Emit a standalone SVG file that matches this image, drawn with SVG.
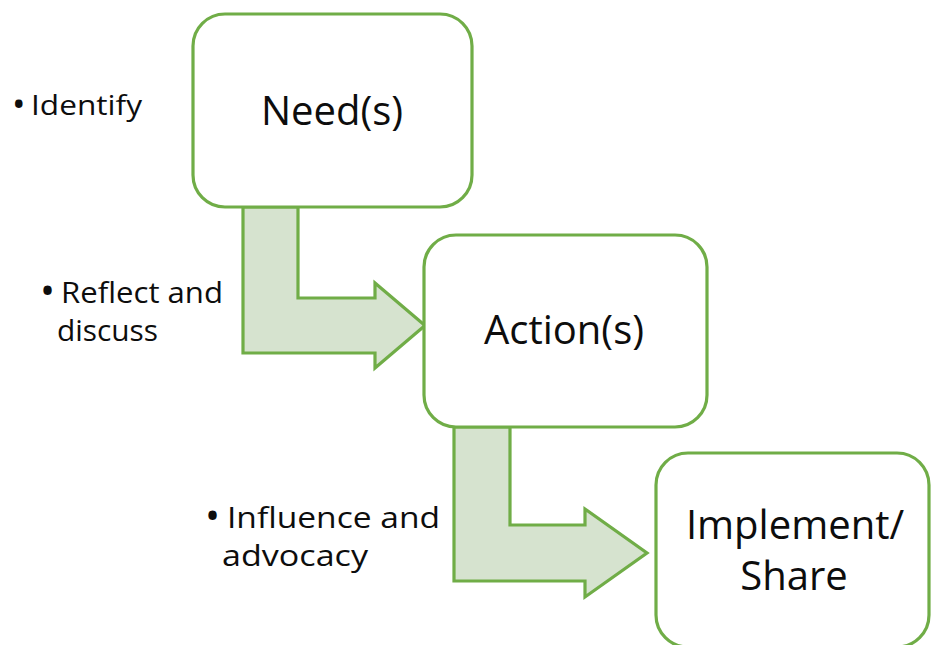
<svg xmlns="http://www.w3.org/2000/svg" width="931" height="645" viewBox="0 0 931 645">
<style>
.box{fill:#ffffff;stroke:#70ad47;stroke-width:3.2}
.arrow{fill:#d6e3cf;stroke:#70ad47;stroke-width:3.2;stroke-linejoin:miter}
.lbl{font-family:"Open Sans","Liberation Sans",sans-serif;font-size:40px;fill:#0d0d0d;text-anchor:middle}
.note{font-family:"Open Sans","Liberation Sans",sans-serif;font-size:30px;fill:#0d0d0d}
.bul{font-size:40px}
</style>
<rect width="931" height="645" fill="#ffffff"/>
<g id="connectors">
<path class="arrow" d="M243,207 L298,207 L298,298 L375,298 L375,283 L425,325.5 L375,368 L375,353 L243,353 Z"/>
<path class="arrow" d="M454,427 L510,427 L510,525 L585,525 L585,509 L647,553 L585,597 L585,581 L454,581 Z"/>
</g>
<g id="node-needs">
<rect class="box" x="193" y="14" width="279" height="193" rx="32" ry="32"/>
<text class="lbl" x="332" y="125">Need(s)</text>
</g>
<g id="node-actions">
<rect class="box" x="424" y="235" width="283" height="192" rx="32" ry="32"/>
<text class="lbl" x="564" y="344">Action(s)</text>
</g>
<g id="node-implement">
<rect class="box" x="656" y="453" width="273" height="194" rx="32" ry="32"/>
<text class="lbl" x="795" y="539">Implement/</text>
<text class="lbl" x="794" y="590">Share</text>
</g>
<g id="note-identify">
<text class="note" x="12" y="117" style="font-size:28px"><tspan class="bul" style="font-size:36px">•</tspan><tspan x="31" y="115" textLength="111" lengthAdjust="spacingAndGlyphs">Identify</tspan></text>
</g>
<g id="note-reflect">
<text class="note" x="40" y="305"><tspan class="bul">•</tspan><tspan x="61" y="303" textLength="162" lengthAdjust="spacingAndGlyphs">Reflect and</tspan></text>
<text class="note" x="57" y="341" textLength="101" lengthAdjust="spacingAndGlyphs">discuss</text>
</g>
<g id="note-influence">
<text class="note" x="205" y="530"><tspan class="bul">•</tspan><tspan x="227" y="528" textLength="213" lengthAdjust="spacingAndGlyphs">Influence and</tspan></text>
<text class="note" x="222" y="566" textLength="146" lengthAdjust="spacingAndGlyphs">advocacy</text>
</g>
</svg>
